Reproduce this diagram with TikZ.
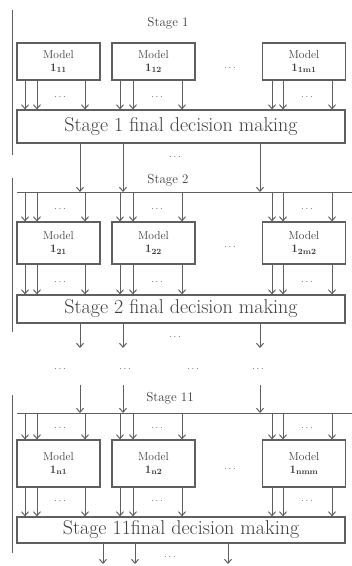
\documentclass[tikz,border=0pt]{standalone}
\usetikzlibrary{arrows.meta,calc}
\definecolor{ln}{RGB}{95,95,95}
\definecolor{tx}{RGB}{60,60,60}
\begin{document}
\begin{tikzpicture}[x=1pt,y=-1pt,
  model/.style={draw=ln,line width=1.1pt,minimum width=83pt,inner sep=0pt,align=center,
    font=\fontsize{11.5}{13}\selectfont,text=tx},
  final/.style={draw=ln,line width=1.1pt,minimum width=328pt,inner sep=0pt,
    font=\fontsize{20}{22}\selectfont,text=tx},
  stagelbl/.style={font=\fontsize{13}{15}\selectfont,text=tx,inner sep=1pt},
  ell/.style={font=\fontsize{10}{10}\selectfont\bfseries,text=tx!80,inner sep=0pt},
  arr/.style={draw=ln,line width=1pt,-{Straight Barb[length=4pt,width=7pt]}},
  rule/.style={draw=ln,line width=1pt}]
\useasboundingbox (0,0) rectangle (352,566);

% ---------------- Stage 1 ----------------
\coordinate (l1a) at (12,10); \coordinate (l1b) at (12,155);
\draw[rule] (l1a) -- (l1b);
\node[stagelbl] (s1) at (168,23) {Stage 1};
\node[model,minimum height=37pt] (m11) at (58.5,61.5) {Model\\{\bfseries 1\textsubscript{11}}};
\node[model,minimum height=37pt] (m12) at (153.5,61.5) {Model\\{\bfseries 1\textsubscript{12}}};
\node[model,minimum height=37pt] (m13) at (304,61.5) {Model\\{\bfseries 1\textsubscript{1m1}}};
\node[ell] (e1m) at (230,68) {$\cdots$};
\node[final,minimum height=33pt] (d1) at (181,126.5) {Stage 1 final decision making};
\foreach \x in {25,37,85,120,133,182,272,283,332}
  \draw[arr] (\x,0 |- m11.south) -- (\x,0 |- d1.north);
\node[ell] (e1a) at (60,97) {$\cdots$};
\node[ell] (e1b) at (157,97) {$\cdots$};
\node[ell] (e1c) at (307,97) {$\cdots$};

% ---------------- Stage 2 ----------------
\coordinate (b2l) at (17,192); \coordinate (b2r) at (352,192);
\draw[rule] (b2l) -- (b2r);
\foreach \x in {80,123,260}
  \draw[arr] (\x,0 |- d1.south) -- (\x,0 |- b2l);
\node[ell] (e12) at (175,157) {$\cdots$};
\coordinate (l2a) at (12,178); \coordinate (l2b) at (12,332);
\draw[rule] (l2a) -- (l2b);
\node[stagelbl] (s2) at (168,180) {Stage 2};
\node[model,minimum height=42pt] (m21) at (58.5,243) {Model\\{\bfseries 1\textsubscript{21}}};
\node[model,minimum height=42pt] (m22) at (153.5,243) {Model\\{\bfseries 1\textsubscript{22}}};
\node[model,minimum height=42pt] (m23) at (304,243) {Model\\{\bfseries 1\textsubscript{2m2}}};
\node[ell] (e2m) at (230,247) {$\cdots$};
\foreach \x in {25,37,85,120,133,182,272,283,332}
  \draw[arr] (\x,0 |- b2l) -- (\x,0 |- m21.north);
\node[ell] (e2ia) at (60,209) {$\cdots$};
\node[ell] (e2ib) at (157,209) {$\cdots$};
\node[ell] (e2ic) at (307,209) {$\cdots$};
\node[final,minimum height=28pt] (d2) at (181,309) {Stage 2 final decision making};
\foreach \x in {25,37,85,120,133,182,272,283,332}
  \draw[arr] (\x,0 |- m21.south) -- (\x,0 |- d2.north);
\node[ell] (e2a) at (60,282) {$\cdots$};
\node[ell] (e2b) at (157,282) {$\cdots$};
\node[ell] (e2c) at (307,282) {$\cdots$};
\coordinate (o2a) at (80,348); \coordinate (o2b) at (123,348); \coordinate (o2c) at (260,348);
\draw[arr] (80,0 |- d2.south) -- (o2a);
\draw[arr] (123,0 |- d2.south) -- (o2b);
\draw[arr] (260,0 |- d2.south) -- (o2c);
\node[ell] (e2o) at (175,337) {$\cdots$};

% ---------------- gap ----------------
\node[ell] (g1) at (60,369) {$\cdots$};
\node[ell] (g2) at (125,369) {$\cdots$};
\node[ell] (g3) at (193,369) {$\cdots$};
\node[ell] (g4) at (258,369) {$\cdots$};

% ---------------- Stage 11 ----------------
\coordinate (bnl) at (17,413); \coordinate (bnr) at (352,413);
\draw[rule] (bnl) -- (bnr);
\coordinate (i3a) at (80,385); \coordinate (i3b) at (123,385); \coordinate (i3c) at (260,385);
\draw[arr] (i3a) -- (i3a |- bnl);
\draw[arr] (i3b) -- (i3b |- bnl);
\draw[arr] (i3c) -- (i3c |- bnl);
\coordinate (l3a) at (12,395); \coordinate (l3b) at (12,553);
\draw[rule] (l3a) -- (l3b);
\node[stagelbl] (s3) at (170,398) {Stage 11};
\node[model,minimum height=47pt] (m31) at (58.5,463.5) {Model\\{\bfseries 1\textsubscript{n1}}};
\node[model,minimum height=47pt] (m32) at (153.5,463.5) {Model\\{\bfseries 1\textsubscript{n2}}};
\node[model,minimum height=47pt] (m33) at (304,463.5) {Model\\{\bfseries 1\textsubscript{nmm}}};
\node[ell] (e3m) at (230,469) {$\cdots$};
\foreach \x in {25,37,85,120,133,182,272,283,332}
  \draw[arr] (\x,0 |- bnl) -- (\x,0 |- m32.north);
\node[ell] (e3ia) at (60,428) {$\cdots$};
\node[ell] (e3ib) at (157,428) {$\cdots$};
\node[ell] (e3ic) at (307,428) {$\cdots$};
\node[final,minimum height=26pt] (d3) at (181,530) {Stage 11final decision making};
\foreach \x in {25,37,85,120,133,182,272,283,332}
  \draw[arr] (\x,0 |- m32.south) -- (\x,0 |- d3.north);
\node[ell] (e3a) at (60,501) {$\cdots$};
\node[ell] (e3b) at (157,501) {$\cdots$};
\node[ell] (e3c) at (307,501) {$\cdots$};
\coordinate (o3a) at (103,564); \coordinate (o3b) at (135,564); \coordinate (o3c) at (228,564);
\draw[arr] (103,0 |- d3.south) -- (o3a);
\draw[arr] (135,0 |- d3.south) -- (o3b);
\draw[arr] (228,0 |- d3.south) -- (o3c);
\node[ell] (e3o) at (170,557) {$\cdots$};
\end{tikzpicture}
\end{document}
